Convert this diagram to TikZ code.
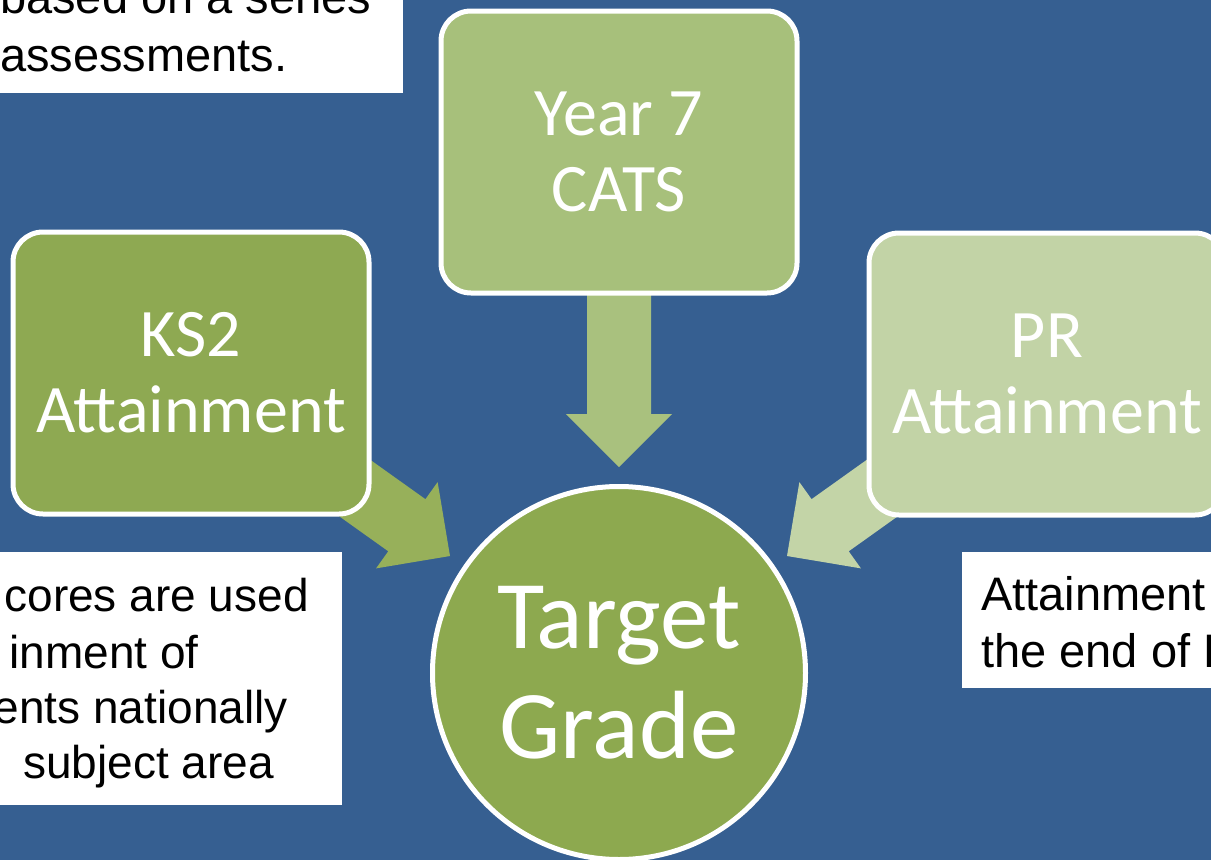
\documentclass[tikz,border=0pt]{standalone}
\usepackage{fontspec}
\usepackage{tikz}
\newfontfamily\boxfont{Carlito}
\newfontfamily\notefont{Liberation Sans}
\definecolor{slideblue}{HTML}{365F91}
\definecolor{ksgreen}{HTML}{8EA952}
\definecolor{catsgreen}{HTML}{A7C07B}
\definecolor{prgreen}{HTML}{C2D3A6}
\definecolor{tggreen}{HTML}{8DA94F}
\definecolor{arrowks}{HTML}{97B05A}
\definecolor{arrowcats}{HTML}{A9C17E}
\definecolor{arrowpr}{HTML}{C3D4A7}
\newcommand\blockarrow[4]{
  \def\L{#3}
  \begin{scope}[shift={(#1)}, rotate=#2]
    \fill[#4] (0,0) -- (-53,53) -- (-53,32) -- (-\L,32)
      -- (-\L,-32) -- (-53,-32) -- (-53,-53) -- cycle;
  \end{scope}
}
\tikzset{
  gbox/.style={draw=white, line width=5, rounded corners=30, minimum width=356,
    minimum height=282, inner sep=0, align=center, text=white,
    font=\boxfont\fontsize{68}{76}\selectfont},
  notebox/.style={fill=white, inner sep=0, anchor=north west},
  notetext/.style={inner sep=0, font=\notefont\fontsize{47}{57}\selectfont}
}
\begin{document}
\begin{tikzpicture}[x=1pt, y=-1pt]
\useasboundingbox (0,0) rectangle (1211,860);
\clip (0,0) rectangle (1211,860);
\fill[slideblue] (0,0) rectangle (1211,860);

% notes
\node[notebox, minimum width=413, minimum height=103] (noteTL) at (-10,-10) {};
\node[notebox, minimum width=352, minimum height=253] (noteBL) at (-10,552) {};
\node[notebox, minimum width=268, minimum height=136] (noteR) at (962,552) {};
\foreach \txt/\yb [count=\i] in {based on a series/13, assessments./71}
  \node[notetext, anchor=base west] (tl\i) at (0,\yb) {\txt};
\foreach \txt/\xr/\yb [count=\i] in {cores are used/309/611, inment of/199/668,
    ents nationally/288/723, subject area/274/778}
  \node[notetext, anchor=base east, font=\notefont\fontsize{46}{57}\selectfont]
    (bl\i) at (\xr,\yb) {\txt};
\foreach \txt/\yb [count=\i] in {Attainment/610, the end of K/667}
  \node[notetext, anchor=base west] (r\i) at (981,\yb) {\txt};

% arrows into the target
\coordinate (tipks) at (450,556);
\coordinate (tipcats) at (619,467);
\coordinate (tippr) at (787,556);
\blockarrow{tipks}{-35.5}{150}{arrowks}
\blockarrow{tipcats}{-90}{217}{arrowcats}
\blockarrow{tippr}{-144.5}{150}{arrowpr}

\node[gbox, fill=catsgreen] (cats) at (619,152) {Year 7\\CATS};
\node[gbox, fill=ksgreen] (ks) at (191,373) {KS2\\Attainment};
\node[gbox, fill=prgreen] (pr) at (1047,374) {PR\\Attainment};
\node[circle, draw=white, line width=5, fill=tggreen, minimum size=373, inner sep=0,
  align=center, text=white, font=\boxfont\fontsize{97}{110}\selectfont]
  (target) at (619,673) {Target\\Grade};
\end{tikzpicture}
\end{document}
